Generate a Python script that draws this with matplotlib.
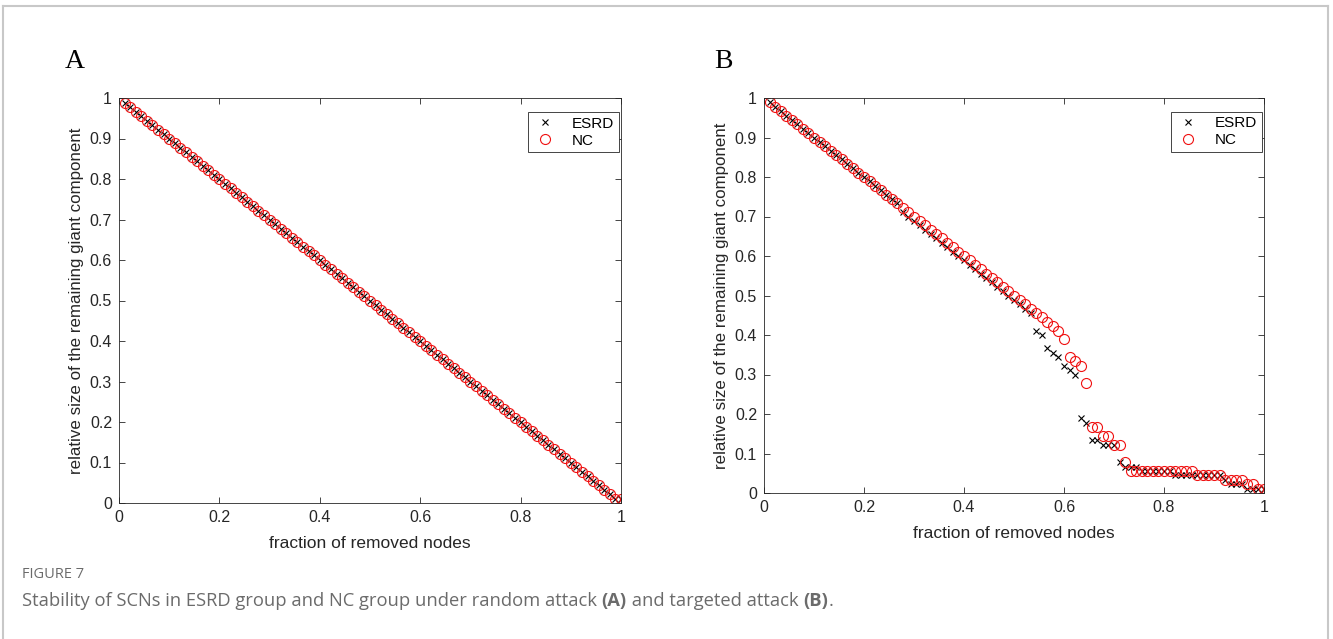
import numpy as np
import matplotlib.pyplot as plt
from matplotlib.lines import Line2D

n_nodes = 90
removed = np.arange(1, n_nodes + 1) / n_nodes

# size of the remaining giant component (in nodes), one value per removal step
esrd_random = [89, 88, 87, 86, 85, 84, 83, 82, 81, 80,
               79, 78, 77, 76, 75, 74, 73, 72, 71, 70,
               69, 68, 67, 66, 65, 64, 63, 62, 61, 60,
               59, 58, 57, 56, 55, 54, 53, 52, 51, 50,
               49, 48, 47, 46, 45, 44, 43, 42, 41, 40,
               39, 38, 37, 36, 35, 34, 33, 32, 31, 30,
               29, 28, 27, 26, 25, 24, 23, 22, 21, 20,
               19, 18, 17, 16, 15, 14, 13, 12, 11, 10,
               9, 8, 7, 6, 5, 4, 3, 2, 1, 1]
nc_random = [89, 88, 87, 86, 85, 84, 83, 82, 81, 80,
             79, 78, 77, 76, 75, 74, 73, 72, 71, 70,
             69, 68, 67, 66, 65, 64, 63, 62, 61, 60,
             59, 58, 57, 56, 55, 54, 53, 52, 51, 50,
             49, 48, 47, 46, 45, 44, 43, 42, 41, 40,
             39, 38, 37, 36, 35, 34, 33, 32, 31, 30,
             29, 28, 27, 26, 25, 24, 23, 22, 21, 20,
             19, 18, 17, 16, 15, 14, 13, 12, 11, 10,
             9, 8, 7, 6, 5, 4, 3, 2, 1, 1]
esrd_target = [89, 88, 87, 86, 85, 84, 83, 82, 81, 80,
               79, 78, 77, 76, 75, 74, 73, 72, 71, 70,
               69, 68, 67, 66, 64, 63, 62, 61, 60, 59,
               58, 57, 56, 55, 54, 53, 52, 51, 50, 49,
               48, 47, 46, 45, 44, 43, 42, 41, 37, 36,
               33, 32, 31, 29, 28, 27, 17, 16, 12, 12,
               11, 11, 11, 7, 6, 6, 6, 5, 5, 5,
               5, 5, 5, 4, 4, 4, 4, 4, 4, 4,
               4, 4, 3, 2, 2, 2, 1, 1, 1, 1]
nc_target = [89, 88, 87, 86, 85, 84, 83, 82, 81, 80,
             79, 78, 77, 76, 75, 74, 73, 72, 71, 70,
             69, 68, 67, 66, 65, 64, 63, 62, 61, 60,
             59, 58, 57, 56, 55, 54, 53, 52, 51, 50,
             49, 48, 47, 46, 45, 44, 43, 42, 41, 40,
             39, 38, 37, 35, 31, 30, 29, 25, 15, 15,
             13, 13, 11, 11, 7, 5, 5, 5, 5, 5,
             5, 5, 5, 5, 5, 5, 5, 4, 4, 4,
             4, 4, 3, 3, 3, 3, 2, 2, 1, 1]

x_ticks = [0, 0.2, 0.4, 0.6, 0.8, 1]
x_labels = ["0", "0.2", "0.4", "0.6", "0.8", "1"]
y_ticks = [0, 0.1, 0.2, 0.3, 0.4, 0.5, 0.6, 0.7, 0.8, 0.9, 1]
y_labels = ["0", "0.1", "0.2", "0.3", "0.4", "0.5", "0.6", "0.7", "0.8", "0.9", "1"]

plt.rcParams["font.family"] = ["Liberation Sans", "DejaVu Sans"]
W, H = 1333, 639
fig = plt.figure(figsize=(W / 100, H / 100), dpi=100)

def px_axes(x0, x1, top, bottom):
  return fig.add_axes([x0 / W, 1 - bottom / H, (x1 - x0) / W, (bottom - top) / H])

def draw_panel(ax, esrd, nc):
  ax.plot(removed, np.array(esrd) / n_nodes, "x", color="black", ms=4.5, mew=0.8, label="ESRD")
  ax.plot(removed, np.array(nc) / n_nodes, "o", mfc="none", mec="#f01010", ms=7.2, mew=0.8, label="NC")
  ax.set_xlim(0, 1)
  ax.set_ylim(0, 1)
  ax.set_xticks(x_ticks, x_labels)
  ax.set_yticks(y_ticks, y_labels)
  ax.tick_params(direction="in", top=True, right=True, length=4, width=0.6,
                 labelsize=11.5, colors="#262626", pad=5)
  for s in ax.spines.values():
    s.set_color("#262626")
    s.set_linewidth(0.6)
  ax.set_xlabel("fraction of removed nodes", fontsize=12.5, color="#262626", labelpad=8)
  ax.set_ylabel("relative size of the remaining giant component", fontsize=12.2,
                color="#262626", labelpad=4)
  leg = ax.legend(loc="upper right", bbox_to_anchor=(0.996, 0.965), borderaxespad=0,
                  fontsize=11, fancybox=False, framealpha=1, handlelength=1.7,
                  handletextpad=0.9, borderpad=0.3, labelspacing=0.2)
  leg.get_frame().set_edgecolor("#262626")
  leg.get_frame().set_linewidth(0.6)
  for t in leg.get_texts():
    t.set_x(0)

ax_a = px_axes(119, 621, 98, 503)
ax_b = px_axes(764, 1264, 98, 493)
draw_panel(ax_a, esrd_random, nc_random)
draw_panel(ax_b, esrd_target, nc_target)

fig.text(75 / W, 1 - 62 / H, "A", family="Liberation Serif", fontsize=20, ha="center", va="center")
fig.text(723 / W, 1 - 62 / H, "B", family="Liberation Serif", fontsize=20, ha="center", va="center")

# caption
gray = "#6b6b6b"
fig.text(22 / W, 1 - 574 / H, "FIGURE 7", family="Open Sans", fontsize=10.5, color=gray, va="center")
cap_parts = [("Stability of SCNs in ESRD group and NC group under random attack ", "normal"),
             ("(A)", "bold"), (" and targeted attack ", "normal"), ("(B)", "bold"), (".", "normal")]
prev = fig.text(22 / W, 1 - 610 / H, cap_parts[0][0], family="Open Sans", fontsize=13.2,
                color=gray, va="bottom")
for txt, wt in cap_parts[1:]:
  prev = ax_b.annotate(txt, xy=(1, 0), xycoords=prev, xytext=(0, 0), textcoords="offset points",
                       family="Open Sans", fontsize=13.2, color=gray, weight=wt,
                       va="bottom", ha="left", annotation_clip=False)

# frame around the figure (left, top, right)
frame = dict(color="#c8c8c8", lw=1.5, transform=fig.transFigure)
fig.add_artist(Line2D([3 / W, 3 / W], [0, 1 - 6 / H], **frame))
fig.add_artist(Line2D([3 / W, 1 - 5 / W], [1 - 6 / H, 1 - 6 / H], **frame))
fig.add_artist(Line2D([1 - 5 / W, 1 - 5 / W], [0, 1 - 6 / H], **frame))

fig.savefig("out.png", dpi=100)
